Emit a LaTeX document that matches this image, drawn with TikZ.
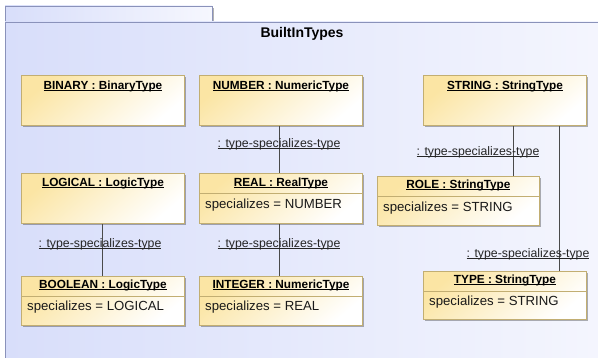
\documentclass[tikz,border=0pt]{standalone}
\usepackage{fontspec}
\setmainfont{Liberation Sans}
\usetikzlibrary{calc,shadows}
\definecolor{pkgborder}{HTML}{8A92BA}
\definecolor{pkgfillL}{HTML}{D8DEFA}
\definecolor{pkgfillR}{HTML}{F6F7FE}
\definecolor{boxY}{HTML}{FBE5A4}
\definecolor{boxW}{HTML}{FFFFFF}
\definecolor{boxborder}{HTML}{C2AE72}
\definecolor{lnk}{HTML}{4A4A4A}
\newcommand\myul[1]{\setbox0\hbox{#1}\rlap{\rule[-1.6pt]{\wd0}{0.7pt}}\box0}
\tikzset{
  objbox/.style={draw=boxborder, line width=0.9pt, left color=boxY, right color=boxW,
    shading angle=40, minimum width=163pt, inner sep=0pt, anchor=north west,
    drop shadow={shadow xshift=2pt, shadow yshift=-2pt, fill=black, opacity=0.3}},
  ttl/.style={font=\fontsize{11.8}{13}\selectfont\bfseries, inner sep=0pt, text=black},
  attr/.style={font=\fontsize{13.2}{15}\selectfont, inner sep=0pt, anchor=west, text=black!90},
  lbl/.style={font=\fontsize{12.3}{14}\selectfont, inner sep=0pt, text=black!85},
  sep/.style={draw=boxborder, line width=0.8pt},
  link/.style={draw=lnk, line width=0.8pt}
}
\begin{document}
\begin{tikzpicture}[x=1pt,y=-1pt]
\useasboundingbox (0,0) rectangle (598,358);
\clip (0,0) rectangle (598,358);
% package
\fill[black, opacity=0.3] (7,8) rectangle (214,23);
\path[draw=pkgborder, line width=0.9pt, left color=pkgfillL, right color=pkgfillR] (5,6) rectangle (212,22);
\path[draw=pkgborder, line width=0.9pt, left color=pkgfillL, right color=pkgfillR] (5,22) rectangle (640,400);
\node[font=\fontsize{14}{16}\selectfont\bfseries, inner sep=0pt] (title) at (302,34) {BuiltInTypes};

% boxes
\node[objbox, minimum height=50pt] (binary) at (21,75) {};
\node[objbox, minimum height=50pt] (number) at (199,75) {};
\node[objbox, minimum height=50pt] (string) at (423,75) {};
\node[objbox, minimum height=50pt] (logical) at (21,173) {};
\node[objbox, minimum height=50pt] (real) at (199,173) {};
\node[objbox, minimum height=49pt, minimum width=162pt] (role) at (377,176) {};
\node[objbox, minimum height=49pt] (boolean) at (21,276) {};
\node[objbox, minimum height=49pt] (integer) at (199,276) {};
\node[objbox, minimum height=48pt] (type) at (423,271) {};

% titles
\node[ttl] (binaryT) at ($(binary.north)+(0,11)$) {\myul{BINARY : BinaryType}};
\node[ttl] (numberT) at ($(number.north)+(0,11)$) {\myul{NUMBER : NumericType}};
\node[ttl] (stringT) at ($(string.north)+(0,11)$) {\myul{STRING : StringType}};
\node[ttl] (logicalT) at ($(logical.north)+(0,10)$) {\myul{LOGICAL : LogicType}};
\node[ttl] (realT) at ($(real.north)+(0,10)$) {\myul{REAL : RealType}};
\node[ttl] (roleT) at ($(role.north)+(0,9.5)$) {\myul{ROLE : StringType}};
\node[ttl] (booleanT) at ($(boolean.north)+(0,9.5)$) {\myul{BOOLEAN : LogicType}};
\node[ttl] (integerT) at ($(integer.north)+(0,9.5)$) {\myul{INTEGER : NumericType}};
\node[ttl] (typeT) at ($(type.north)+(0,9.5)$) {\myul{TYPE : StringType}};

% separators and attributes
\draw[sep] ($(real.north west)+(0,20)$) -- ($(real.north east)+(0,20)$);
\node[attr] (realA) at ($(real.north west)+(6,32)$) {specializes = NUMBER};
\draw[sep] ($(role.north west)+(0,20)$) -- ($(role.north east)+(0,20)$);
\node[attr] (roleA) at ($(role.north west)+(6,32)$) {specializes = STRING};
\draw[sep] ($(boolean.north west)+(0,20)$) -- ($(boolean.north east)+(0,20)$);
\node[attr] (booleanA) at ($(boolean.north west)+(6,31)$) {specializes = LOGICAL};
\draw[sep] ($(integer.north west)+(0,20)$) -- ($(integer.north east)+(0,20)$);
\node[attr] (integerA) at ($(integer.north west)+(6,31)$) {specializes = REAL};
\draw[sep] ($(type.north west)+(0,20)$) -- ($(type.north east)+(0,20)$);
\node[attr] (typeA) at ($(type.north west)+(6,31)$) {specializes = STRING};

% links
\draw[link] ([xshift=-1.5pt]number.south) -- ([xshift=-1.5pt]real.north);
\draw[link] ([xshift=-1.5pt]real.south) -- ([xshift=-1.5pt]integer.north);
\draw[link] ([xshift=-0.5pt]logical.south) -- ([xshift=-0.5pt]boolean.north);
\draw[link] ([xshift=8.5pt]string.south) -- ([xshift=8.5pt]string.south |- role.north);
\draw[link] ([xshift=54.5pt]string.south) -- ([xshift=54.5pt]string.south |- type.north);

% link labels
\node[lbl] (l1) at (279,144) {\myul{: type-specializes-type}};
\node[lbl] (l2) at (279,244) {\myul{: type-specializes-type}};
\node[lbl] (l3) at (100,244) {\myul{: type-specializes-type}};
\node[lbl] (l4) at (478,152) {\myul{: type-specializes-type}};
\node[lbl] (l5) at (528,254) {\myul{: type-specializes-type}};
\end{tikzpicture}
\end{document}
